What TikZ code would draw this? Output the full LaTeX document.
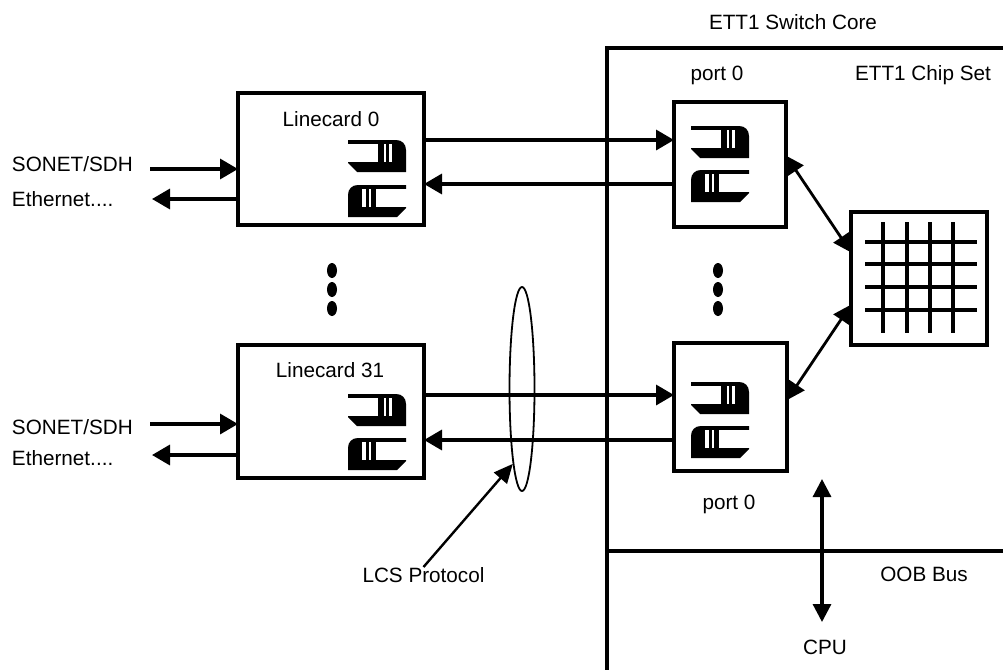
\documentclass[tikz,border=0pt]{standalone}
\usepackage{fontspec}
\setmainfont{Liberation Sans}
\usetikzlibrary{arrows.meta,shapes.geometric}
\begin{document}
\begin{tikzpicture}[x=1pt,y=-1pt,
  lbl/.style={inner sep=0pt,outer sep=0pt,font=\fontsize{20.7}{24}\selectfont,anchor=base},
  lbll/.style={lbl,anchor=base west},
  box/.style={draw,line width=3.5pt,inner sep=0pt,outer sep=0pt},
  arr/.style={line width=3.4pt,-{Triangle[length=18pt,width=20pt]}},
  darr/.style={line width=2.8pt,{Triangle[length=18pt,width=18pt]}-{Triangle[length=18pt,width=18pt]}},
  gridln/.style={line width=3.5pt},
  qbody/.pic={
    \fill (0,0) -- (48,0) .. controls (54,0) and (58,4) .. (58,10) -- (58,32) -- (9,32) -- (0,23) -- cycle;
    \fill[white] (-1,3.5) rectangle (44,22);
    \fill (30,3.5) rectangle (35.5,22);
    \fill (37.5,3.5) rectangle (40.5,22);
  }]
\useasboundingbox (0,0) rectangle (1003,669);
\begin{scope}
\clip (0,0) rectangle (1003,669);
% switch core frame
\draw[line width=3.5pt] (1010,48) -- (607,48) -- (607,680);
\draw[line width=3.5pt] (607,551) -- (1010,551);
\end{scope}

% boxes
\node[box,minimum width=186pt,minimum height=132pt] (lc0) at (331,159) {};
\node[box,minimum width=186pt,minimum height=133pt] (lc31) at (331,411.5) {};
\node[box,minimum width=112pt,minimum height=125pt] (p0) at (730,164.5) {};
\node[box,minimum width=113pt,minimum height=128pt] (p31) at (730.5,407) {};
\node[box,minimum width=136pt,minimum height=133pt] (xb) at (919,278.5) {};

% queue icons
\pic at (348,140) {qbody};
\pic[xscale=-1] at (406,185) {qbody};
\pic at (348,394) {qbody};
\pic[xscale=-1] at (406,438) {qbody};
\pic at (691,126) {qbody};
\pic[xscale=-1] at (749,170) {qbody};
\pic at (691,382) {qbody};
\pic[xscale=-1] at (749,426) {qbody};

% crossbar grid
\foreach \gx in {883,907,930,953} \draw[gridln] (\gx,222) -- (\gx,333);
\foreach \gy in {242,264,287,310} \draw[gridln] (865,\gy) -- (977,\gy);

% labels
\node[lbl] (core) at (793,30) {ETT1 Switch Core};
\node[lbl] (pt0) at (717,80) {port 0};
\node[lbl] (chip) at (923,80) {ETT1 Chip Set};
\node[lbl] (l0) at (331,126) {Linecard 0};
\node[lbl] (l31) at (330,377) {Linecard 31};
\node[lbl] (pb0) at (729,509) {port 0};
\node[lbl] (oob) at (924,581) {OOB Bus};
\node[lbl] (cpu) at (825,654) {CPU};
\node[lbl] (lcst) at (423.5,582) {LCS Protocol};
\node[lbll] (son0) at (12,171) {SONET/SDH};
\node[lbll] (eth0) at (12,206) {Ethernet....};
\node[lbll] (son31) at (12,434) {SONET/SDH};
\node[lbll] (eth31) at (12,465) {Ethernet....};

% external line arrows
\coordinate (s0) at (150,169);
\coordinate (e0) at (152,199);
\coordinate (s31) at (150,424);
\coordinate (e31) at (152,455);
\draw[arr] (s0) -- (lc0.west |- s0);
\draw[arr] (lc0.west |- e0) -- (e0);
\draw[arr] (s31) -- (lc31.west |- s31);
\draw[arr] (lc31.west |- e31) -- (e31);

% linecard <-> port
\coordinate (r0) at (0,140);
\coordinate (b0) at (0,184);
\coordinate (r31) at (0,395);
\coordinate (b31) at (0,440);
\draw[arr] (lc0.east |- r0) -- (p0.west |- r0);
\draw[arr] (p0.west |- b0) -- (lc0.east |- b0);
\draw[arr] (lc31.east |- r31) -- (p31.west |- r31);
\draw[arr] (p31.west |- b31) -- (lc31.east |- b31);

% port <-> crossbar
\draw[darr] (p0.9.6) -- (xb.159.4);
\draw[darr] (p31.7.2) -- (xb.201.3);

% dots
\foreach \dy in {270.5,289.5,308.5} {
  \fill (332,\dy) ellipse [x radius=5pt,y radius=7.5pt];
  \fill (718,\dy) ellipse [x radius=5pt,y radius=7.5pt];
}

% LCS ellipse
\node[draw,ellipse,line width=1.8pt,minimum width=25pt,minimum height=204pt,inner sep=0pt] (lcs) at (522,389) {};
\draw[line width=2.4pt,-{Triangle[length=19pt,width=17pt]}] (lcst.north) -- (lcs.263);

% CPU arrow
\coordinate (cpuT) at (822,479);
\coordinate (cpuB) at (822,622);
\draw[darr,line width=3.2pt] (cpuT) -- (cpuB);
\end{tikzpicture}
\end{document}
